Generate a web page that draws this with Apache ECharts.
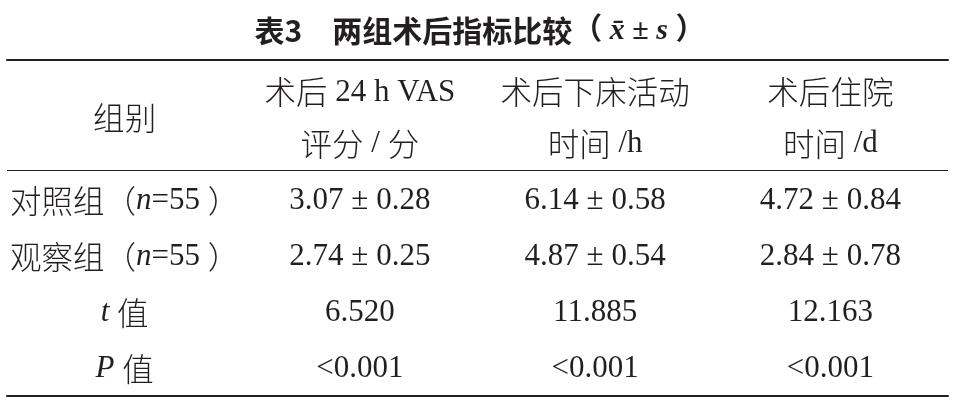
<!DOCTYPE html>
<html>
<head>
<meta charset="utf-8">
<script src="https://cdn.jsdelivr.net/npm/echarts@6/dist/echarts.min.js"></script>
<style>html,body{margin:0;padding:0;background:#fff;}#c{width:960px;height:408px;}</style>
</head>
<body>
<div id="c"></div>
<script>
// ---- data ----
const columns = ['组别', 'VAS', '下床', '住院'];
const rows = ['h1', 'h2', '对照组', '观察组', 't', 'P'];
const groupHeader = '组别';
const headerLine1 = ['术后 24 h VAS', '术后下床活动', '术后住院'];
const headerLine2 = ['评分 / 分', '时间 /h', '时间 /d'];
const groupNames = ['对照组', '观察组'];
const groupN = [55, 55];
const controlMean = [3.07, 6.14, 4.72];
const controlSD = [0.28, 0.58, 0.84];
const observeMean = [2.74, 4.87, 2.84];
const observeSD = [0.25, 0.54, 0.78];
const tValues = ['6.520', '11.885', '12.163'];
const pValues = ['<0.001', '<0.001', '<0.001'];

// ---- styling ----
const INK = '#231f20';
const SERIF = '"Liberation Serif", "Noto Sans CJK SC", serif';
const CJK = '"Noto Sans CJK SC", sans-serif';
function seg(extra) {
  return Object.assign({ fontFamily: SERIF, fontSize: 31, fill: INK, color: INK }, extra || {});
}
const richCell = {
  r: seg(),
  i: seg({ fontStyle: 'italic' }),
  z: seg({ fontFamily: CJK, fontSize: 31.5, fontWeight: 300 })
};
// wrap CJK runs in {z|..} and others in {r|..}
function toRich(str) {
  const parts = str.match(/[\u3000-\u303f\u4e00-\u9fff\uff00-\uffef]+|[^\u3000-\u303f\u4e00-\u9fff\uff00-\uffef]+/g) || [];
  return parts.map(p => (/[\u3000-\u303f\u4e00-\u9fff\uff00-\uffef]/.test(p) ? '{z|' : '{r|') + p + '}').join('');
}

// ---- cells built from data ----
const cells = [];
cells.push({ col: 0, row: 0.52, text: toRich(groupHeader) });
for (let k = 0; k < 3; k++) {
  cells.push({ col: k + 1, row: 0.06, text: toRich(headerLine1[k]) });
  cells.push({ col: k + 1, row: 0.98, text: toRich(headerLine2[k]) });
}
const means = [controlMean, observeMean];
const sds = [controlSD, observeSD];
for (let g = 0; g < 2; g++) {
  cells.push({ col: 0, row: 2 + g, text: toRich(groupNames[g] + '（') + '{i|n}{r|=' + groupN[g] + ' }' + toRich('）') });
  for (let k = 0; k < 3; k++) {
    cells.push({ col: k + 1, row: 2 + g, text: toRich(means[g][k].toFixed(2) + ' ± ' + sds[g][k].toFixed(2)) });
  }
}
cells.push({ col: 0, row: 4, text: '{i|t}{r| }' + toRich('值') });
cells.push({ col: 0, row: 5, text: '{i|P}{r| }' + toRich('值') });
for (let k = 0; k < 3; k++) {
  cells.push({ col: k + 1, row: 4, text: toRich(tValues[k]) });
  cells.push({ col: k + 1, row: 5, text: toRich(pValues[k]) });
}

const chart = echarts.init(document.getElementById('c'), null, { renderer: 'canvas' });
chart.setOption({
  backgroundColor: '#ffffff',
  animation: false,
  title: {
    text: '{b|表3　两组术后指标比较}{p|（ }{i|x̄}{p| ± }{i|s}{p| ）}',
    left: 'center',
    top: 11,
    textStyle: {
      rich: {
        b: { fontFamily: CJK, fontWeight: 'bold', fontSize: 30, color: INK },
        p: { fontFamily: SERIF, fontSize: 30, color: INK },
        i: { fontFamily: SERIF, fontStyle: 'italic', fontSize: 30, color: INK }
      }
    }
  },
  grid: { left: 7, right: 12, top: 60, bottom: 12, containLabel: false },
  xAxis: [
    {
      type: 'category', data: columns, position: 'bottom',
      axisLine: { show: true, lineStyle: { color: INK, width: 2 } },
      axisTick: { show: false }, axisLabel: { show: false }, splitLine: { show: false }
    },
    {
      type: 'category', data: columns, position: 'top',
      axisLine: { show: true, lineStyle: { color: INK, width: 2 } },
      axisTick: { show: false }, axisLabel: { show: false }, splitLine: { show: false }
    }
  ],
  yAxis: {
    type: 'category', data: rows, inverse: true,
    axisLine: { show: false }, axisTick: { show: false }, axisLabel: { show: false }, splitLine: { show: false }
  },
  series: [
    {
      type: 'custom',
      xAxisIndex: 0,
      silent: true,
      data: cells.map(c => [c.col, c.row]),
      renderItem: function (params, api) {
        const c = cells[params.dataIndex];
        const r0 = Math.floor(c.row), r1 = Math.ceil(c.row);
        const p0 = api.coord([c.col, r0]);
        const p1 = api.coord([c.col, r1]);
        const y = p0[1] + (p1[1] - p0[1]) * (c.row - r0) + 1;
        return {
          type: 'text',
          x: p0[0], y: y,
          style: {
            text: c.text, rich: richCell,
            fontFamily: SERIF, fontSize: 31, fill: INK,
            align: 'center', verticalAlign: 'middle'
          }
        };
      }
    },
    {
      type: 'custom',
      xAxisIndex: 0,
      silent: true,
      data: [[0, 1]],
      renderItem: function (params, api) {
        const cs = params.coordSys;
        const p = api.coord([0, 1]);
        const band = api.size([1, 1])[1];
        const y = Math.round(p[1] + band / 2) - 2 + 0.5;
        return {
          type: 'line',
          shape: { x1: cs.x, y1: y, x2: cs.x + cs.width, y2: y },
          style: { stroke: INK, lineWidth: 1.2 }
        };
      }
    }
  ]
});
</script>
</body>
</html>
